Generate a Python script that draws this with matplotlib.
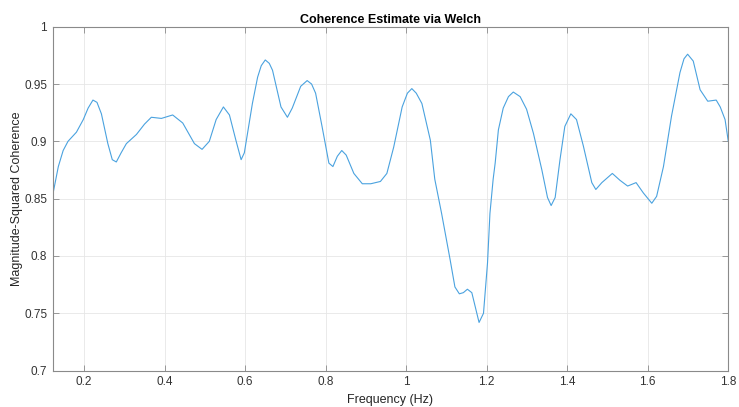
import matplotlib
matplotlib.use("Agg")
import matplotlib.pyplot as plt

plt.rcParams['font.family'] = ['Liberation Sans', 'DejaVu Sans']

# Coherence estimate samples (frequency in Hz, magnitude-squared coherence)
freq = [0.122, 0.136, 0.148, 0.160, 0.181, 0.198, 0.210, 0.222, 0.232, 0.243, 0.259,
        0.270, 0.280, 0.292, 0.305, 0.330, 0.350, 0.367, 0.392, 0.420, 0.445, 0.474,
        0.493, 0.511, 0.528, 0.546, 0.561, 0.577, 0.590, 0.598, 0.618, 0.631, 0.640,
        0.650, 0.660, 0.668, 0.689, 0.705, 0.717, 0.738, 0.754, 0.765, 0.775, 0.791,
        0.808, 0.818, 0.829, 0.840, 0.851, 0.870, 0.891, 0.912, 0.936, 0.952, 0.969,
        0.990, 1.003, 1.014, 1.025, 1.039, 1.060, 1.071, 1.088, 1.109, 1.121, 1.132,
        1.142, 1.152, 1.163, 1.181, 1.192, 1.202, 1.208, 1.216, 1.221, 1.229, 1.241,
        1.254, 1.266, 1.283, 1.299, 1.316, 1.337, 1.351, 1.360, 1.370, 1.382, 1.394,
        1.409, 1.423, 1.440, 1.461, 1.471, 1.486, 1.512, 1.531, 1.550, 1.571, 1.589,
        1.610, 1.622, 1.639, 1.659, 1.680, 1.690, 1.699, 1.713, 1.730, 1.749, 1.770,
        1.780, 1.792, 1.800]
coh = [0.853, 0.878, 0.892, 0.900, 0.908, 0.919, 0.929, 0.936, 0.934, 0.924, 0.898,
       0.884, 0.882, 0.890, 0.898, 0.906, 0.915, 0.921, 0.920, 0.923, 0.916, 0.898,
       0.893, 0.900, 0.919, 0.930, 0.923, 0.901, 0.884, 0.890, 0.933, 0.956, 0.966,
       0.971, 0.968, 0.962, 0.930, 0.921, 0.929, 0.948, 0.953, 0.950, 0.942, 0.913,
       0.881, 0.878, 0.887, 0.892, 0.888, 0.872, 0.863, 0.863, 0.865, 0.872, 0.895,
       0.930, 0.942, 0.946, 0.942, 0.933, 0.901, 0.867, 0.837, 0.797, 0.773, 0.767,
       0.768, 0.771, 0.768, 0.742, 0.750, 0.794, 0.837, 0.867, 0.881, 0.910, 0.929,
       0.939, 0.943, 0.939, 0.928, 0.907, 0.875, 0.851, 0.844, 0.851, 0.884, 0.913,
       0.924, 0.919, 0.896, 0.864, 0.858, 0.864, 0.872, 0.866, 0.861, 0.864, 0.855,
       0.846, 0.852, 0.878, 0.922, 0.960, 0.972, 0.976, 0.970, 0.945, 0.935, 0.936,
       0.930, 0.919, 0.900]

xticks = [0.2, 0.4, 0.6, 0.8, 1.0, 1.2, 1.4, 1.6, 1.8]
xticklabels = ['0.2', '0.4', '0.6', '0.8', '1', '1.2', '1.4', '1.6', '1.8']
yticks = [0.7, 0.75, 0.8, 0.85, 0.9, 0.95, 1.0]
yticklabels = ['0.7', '0.75', '0.8', '0.85', '0.9', '0.95', '1']

axis_color = '#333333'

fig = plt.figure(figsize=(7.39, 4.07), dpi=100)
ax = fig.add_axes([0.0713, 0.0894, 0.9142, 0.845])

ax.plot(freq, coh, color='#4aa2df', linewidth=0.8)

ax.set_xlim(0.122, 1.8)
ax.set_ylim(0.7, 1.0)
ax.set_xticks(xticks)
ax.set_xticklabels(xticklabels)
ax.set_yticks(yticks)
ax.set_yticklabels(yticklabels)

ax.grid(True, color='#e6e6e6', linewidth=0.6)
ax.set_axisbelow(True)

for side in ['left', 'right', 'top', 'bottom']:
    ax.spines[side].set_color('#8a8a8a')
    ax.spines[side].set_linewidth(0.8)

ax.tick_params(axis='both', direction='in', length=4, width=0.6, color='#8a8a8a',
               labelsize=8.5, labelcolor=axis_color, top=True, right=True, pad=4)

ax.set_xlabel('Frequency (Hz)', fontsize=9, color='#262626', labelpad=4)
ax.set_ylabel('Magnitude-Squared Coherence', fontsize=9, color='#262626')
ax.yaxis.set_label_coords(-0.044, 0.5)
ax.set_title('Coherence Estimate via Welch', fontsize=9, fontweight='bold', color='#000000', pad=3)

fig.savefig('out.png', dpi=100)
